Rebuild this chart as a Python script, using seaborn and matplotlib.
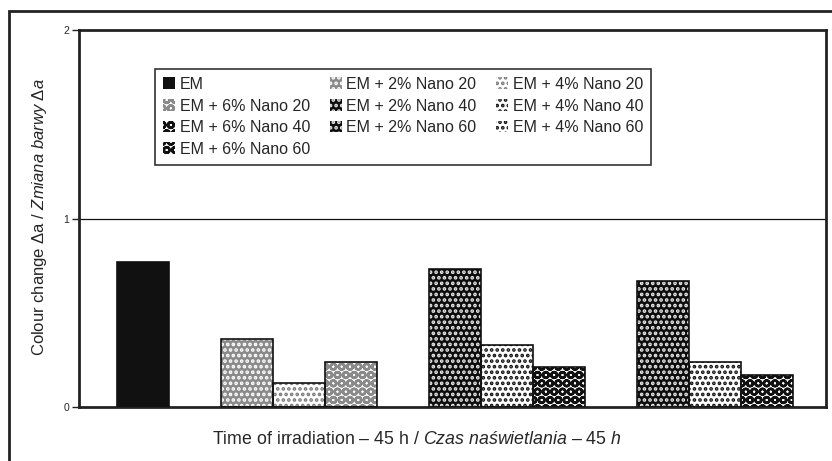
import matplotlib
matplotlib.use("Agg")
from matplotlib import pyplot as plt
from matplotlib.patches import Rectangle, Patch
import pandas as pd
import seaborn as sns

# Data
series = ["EM",
          "EM + 2% Nano 20", "EM + 4% Nano 20", "EM + 6% Nano 20",
          "EM + 2% Nano 40", "EM + 4% Nano 40", "EM + 6% Nano 40",
          "EM + 2% Nano 60", "EM + 4% Nano 60", "EM + 6% Nano 60"]
values = [0.77,
          0.36, 0.13, 0.24,
          0.73, 0.33, 0.21,
          0.67, 0.24, 0.17]
y_ticks = [0, 1, 2]

# empty slots between the groups
slot_order = ["EM", " ",
              "EM + 2% Nano 20", "EM + 4% Nano 20", "EM + 6% Nano 20", "  ",
              "EM + 2% Nano 40", "EM + 4% Nano 40", "EM + 6% Nano 40", "   ",
              "EM + 2% Nano 60", "EM + 4% Nano 60", "EM + 6% Nano 60"]

# (face colour, hatch, hatch colour)
styles = {
    "EM": ("#111111", "", "#111111"),
    "EM + 2% Nano 20": ("#8a8a8a", "...", "white"),
    "EM + 4% Nano 20": ("white", "...", "#7a7a7a"),
    "EM + 6% Nano 20": ("white", "OO", "#8a8a8a"),
    "EM + 2% Nano 40": ("#0d0d0d", "...", "#e8e8e8"),
    "EM + 4% Nano 40": ("white", "...", "#111111"),
    "EM + 6% Nano 40": ("white", "OO", "#111111"),
    "EM + 2% Nano 60": ("#0d0d0d", "...", "#e8e8e8"),
    "EM + 4% Nano 60": ("white", "...", "#111111"),
    "EM + 6% Nano 60": ("white", "OO", "#111111"),
}

df = pd.DataFrame({"series": series, "value": values})

sns.set_style("white")
plt.rcParams["font.family"] = ["Liberation Sans", "DejaVu Sans"]
plt.rcParams["mathtext.fontset"] = "custom"
plt.rcParams["mathtext.rm"] = "Liberation Sans"
plt.rcParams["mathtext.it"] = "Liberation Sans:italic"
plt.rcParams["hatch.linewidth"] = 1.8

fig = plt.figure(figsize=(8.32, 4.61), dpi=100)
ax = fig.add_axes([0.095, 0.117, 0.898, 0.818])

sns.barplot(data=df, x="series", y="value", order=slot_order, width=1.0,
            color="black", errorbar=None, ax=ax)

# style each bar from its slot
for p in list(ax.patches):
    idx = int(round(p.get_x() + p.get_width() / 2))
    name = slot_order[idx]
    face, hatch, hcol = styles[name]
    p.set_facecolor(face)
    p.set_hatch(hatch)
    p.set_edgecolor(hcol)
    p.set_linewidth(0)
    ax.add_patch(Rectangle((p.get_x(), 0), p.get_width(), p.get_height(),
                           fill=False, edgecolor="#111111", linewidth=1.2, zorder=3))

ax.set_xlim(-1.23, 13.13)
ax.set_ylim(0, 2)
ax.set_xticks([])
ax.set_yticks(y_ticks)
ax.set_yticklabels([str(t) for t in y_ticks], fontsize=7.5)
ax.tick_params(axis="y", length=5, width=1, color="#222222", pad=2, left=True)
ax.axhline(1, color="#111111", linewidth=0.9, zorder=0)
for s in ax.spines.values():
    s.set_linewidth(2)
    s.set_color("#222222")

ax.set_ylabel(r"Colour change $\Delta$a / $\mathit{Zmiana\ barwy\ \Delta a}$", fontsize=12)
ax.yaxis.set_label_coords(-0.040, 0.504)
ax.set_xlabel("Time of irradiation – 45 h / $\\mathit{Czas\\ naświetlania\\ –\\ 45\\ h}$", fontsize=12.8)
ax.xaxis.set_label_coords(0.452, -0.085)
ax.xaxis.label.set_verticalalignment("center")

# legend filled row by row like the reference
legend_order = [0, 3, 6, 9, 1, 4, 7, 2, 5, 8]
handles = []
for i in legend_order:
    face, hatch, hcol = styles[series[i]]
    handles.append(Patch(facecolor=face, hatch=hatch, edgecolor=hcol, linewidth=0))
leg = ax.legend(handles, [series[i] for i in legend_order], ncol=3,
                loc="upper left", bbox_to_anchor=(0.102, 0.897), borderaxespad=0,
                fontsize=11.5, frameon=True, fancybox=False, framealpha=1,
                edgecolor="#333333", handlelength=0.75, handleheight=0.75,
                handletextpad=0.3, labelspacing=0.42, columnspacing=1.2, borderpad=0.5)
leg.get_frame().set_linewidth(1.2)

# outer frame of the figure (open on the right and bottom)
fig.add_artist(Rectangle((9 / 832, -0.1), 1.2, 1.1 - 11 / 461, transform=fig.transFigure,
                         fill=False, edgecolor="#222222", linewidth=2))

fig.savefig("out.png", dpi=100)
